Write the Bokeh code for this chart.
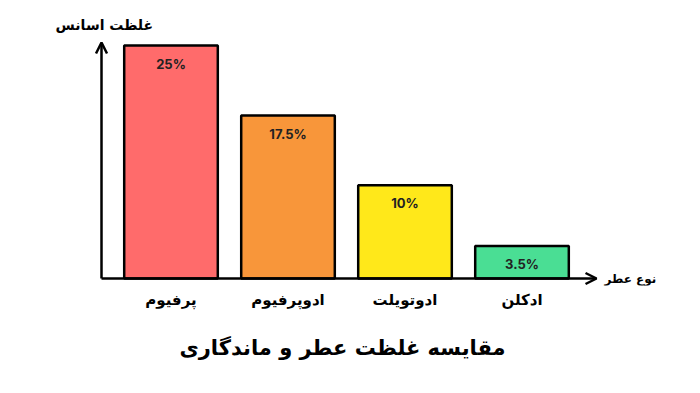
from bokeh.plotting import figure
from bokeh.models import Range1d, FixedTicker, Arrow, OpenHead, Label, Title, ColumnDataSource
from bokeh.core.properties import value
from bokeh.embed import file_html
from bokeh.resources import INLINE

categories = ["پرفیوم", "ادوپرفیوم", "ادوتویلت", "ادکلن"]
values = [25, 17.5, 10, 3.5]
value_labels = ["25%", "17.5%", "10%", "3.5%"]
colors = ["#FF6B6B", "#F8963A", "#FFE81A", "#4ADE94"]
x_title = "نوع عطر"
y_title = "غلظت اسانس"
chart_title = "مقایسه غلظت عطر و ماندگاری"

ARABIC = "DejaVu Sans"
positions = list(range(1, len(categories) + 1))

# frame covers the canvas from the top down to just under the baseline
p = figure(width=700, height=393, output_backend="svg", toolbar_location=None,
           x_range=Range1d(-0.4573, 5.5256), y_range=Range1d(-0.751, 29.828),
           y_axis_location=None,
           min_border_left=0, min_border_right=0, min_border_top=0,
           min_border_bottom=108)
p.background_fill_color = "white"
p.border_fill_color = "white"
p.outline_line_color = None
p.grid.visible = False

src = ColumnDataSource(dict(x=positions, top=values, color=colors, label=value_labels,
                            ly=[v - 1.95 for v in values]))
p.vbar(x="x", top="top", bottom=0, width=0.8, fill_color="color", line_color="black",
       line_width=2.5, source=src)
p.text(x="x", y="ly", text="label", source=src, text_align="center", text_baseline="middle",
       text_font=value("Inter"), text_font_style="bold", text_font_size="13px", text_color="#222222")

xa = p.xaxis[0]
xa.ticker = FixedTicker(ticks=positions)
xa.major_label_overrides = {pos: cat for pos, cat in zip(positions, categories)}
xa.axis_line_color = None
xa.major_tick_line_color = None
xa.minor_tick_line_color = None
xa.major_tick_out = 0
xa.major_tick_in = 0
xa.major_label_standoff = 5
xa.major_label_text_font = ARABIC
xa.major_label_text_font_style = "bold"
xa.major_label_text_font_size = "15px"
xa.major_label_text_color = "black"

# axis lines with arrow heads
x0 = 0.406
p.add_layout(Arrow(end=OpenHead(size=11, line_width=2.5, line_color="black"),
                   x_start=x0, y_start=0, x_end=x0, y_end=25.32,
                   line_width=2.5, line_color="black"))
p.add_layout(Arrow(end=OpenHead(size=11, line_width=2.5, line_color="black"),
                   x_start=x0, y_start=0, x_end=4.637, y_end=0,
                   line_width=2.5, line_color="black"))

p.add_layout(Label(x=0.43, y=27.15, text=y_title, text_align="center", text_baseline="middle",
                   text_font=ARABIC, text_font_style="bold", text_font_size="14px", text_color="black"))
p.add_layout(Label(x=4.927, y=0, text=x_title, text_align="center", text_baseline="middle",
                   text_font=ARABIC, text_font_style="bold", text_font_size="12px", text_color="black"))

t = Title(text=chart_title, align="left", offset=179, text_font=ARABIC, text_font_style="bold",
          text_font_size="21px", text_color="black", standoff=45)
p.add_layout(t, "below")

open("out.html", "w").write(file_html(p, INLINE))
